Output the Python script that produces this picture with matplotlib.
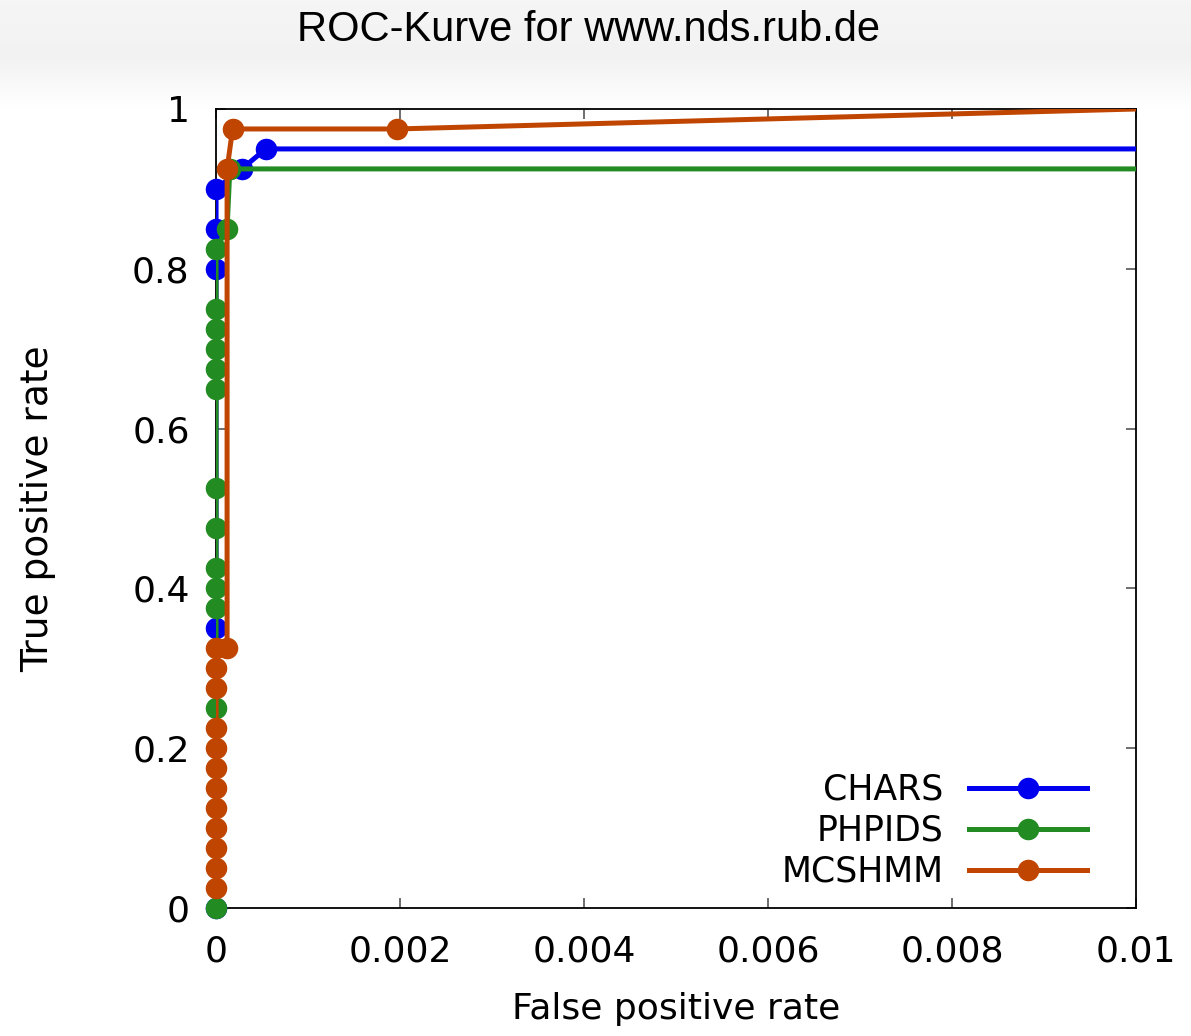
import numpy as np
import matplotlib.pyplot as plt
from matplotlib.ticker import FuncFormatter

chars_fpr = [0, 0, 0, 0, 0, 0.00028, 0.00054, 1]
chars_tpr = [0, 0.35, 0.80, 0.85, 0.90, 0.925, 0.95, 0.95]

phpids_fpr = [0, 0, 0, 0, 0, 0, 0, 0, 0, 0, 0, 0, 0, 0.00012, 0.00015, 1]
phpids_tpr = [0, 0.25, 0.375, 0.40, 0.425, 0.475, 0.525, 0.65, 0.675, 0.70,
              0.725, 0.75, 0.825, 0.85, 0.925, 0.925]

mcshmm_fpr = [0, 0, 0, 0, 0, 0, 0, 0, 0, 0, 0, 0, 0.00012, 0.00012, 0.00018,
              0.00197, 0.01]
mcshmm_tpr = [0.025, 0.05, 0.075, 0.10, 0.125, 0.15, 0.175, 0.20, 0.225, 0.275,
              0.30, 0.325, 0.325, 0.925, 0.975, 0.975, 1.0]

series = [("CHARS", chars_fpr, chars_tpr, "#0000ee"),
          ("PHPIDS", phpids_fpr, phpids_tpr, "#228b22"),
          ("MCSHMM", mcshmm_fpr, mcshmm_tpr, "#c04500")]

plt.rcParams['font.family'] = ['DejaVu Sans']
fig = plt.figure(figsize=(11.91, 10.36), dpi=100)

# heller grauer Verlauf oben (Folien-Hintergrund)
bg = fig.add_axes([0, 0.895, 1, 0.105], zorder=-10)
grad = np.concatenate([np.linspace(0.962, 0.950, 55), np.linspace(0.950, 1.0, 50)])
grad = grad.reshape(-1, 1)
bg.imshow(np.dstack([grad] * 3), aspect='auto', extent=[0, 1, 0, 1], vmin=0, vmax=1)
bg.axis('off')

fig.text(0.494, 0.971, "ROC-Kurve for www.nds.rub.de", ha='center', va='center',
         fontsize=30, family=['Liberation Sans', 'DejaVu Sans'])

ax = fig.add_axes([0.1814, 0.1236, 0.7724, 0.7712])
ax.set_xlim(0, 0.01)
ax.set_ylim(0, 1)

for i, (name, fx, fy, col) in enumerate(series):
    fx = np.array(fx)
    fy = np.array(fy)
    ax.plot(fx, fy, '-', color=col, lw=3.6, zorder=3 + i)
    inside = fx < 0.0099
    ax.plot(fx[inside], fy[inside], 'o', color=col, ms=14.5, clip_on=False, zorder=3 + i)
    ax.plot([], [], '-o', color=col, lw=3.6, ms=14.5, label=name)

ax.set_xticks([0, 0.002, 0.004, 0.006, 0.008, 0.01])
ax.set_yticks([0, 0.2, 0.4, 0.6, 0.8, 1])
ax.xaxis.set_major_formatter(FuncFormatter(lambda v, p: "%g" % round(v, 4)))
ax.yaxis.set_major_formatter(FuncFormatter(lambda v, p: "%g" % round(v, 2)))
ax.tick_params(direction='in', length=7, width=1.2, color='#555555',
               top=True, right=True, labelsize=26)
ax.tick_params(axis='x', pad=19)
ax.tick_params(axis='y', pad=19)
for s in ax.spines.values():
    s.set_linewidth(1.3)

ax.set_xlabel("False positive rate", fontsize=26, labelpad=17)
ax.set_ylabel("True positive rate", fontsize=27, labelpad=55)

leg = ax.legend(loc='lower right', markerfirst=False, frameon=False, fontsize=25,
                handlelength=3.4, handletextpad=0.75, labelspacing=0.2,
                borderaxespad=0.15, bbox_to_anchor=(0.968, 0.0))

fig.savefig("out.png", dpi=100)
